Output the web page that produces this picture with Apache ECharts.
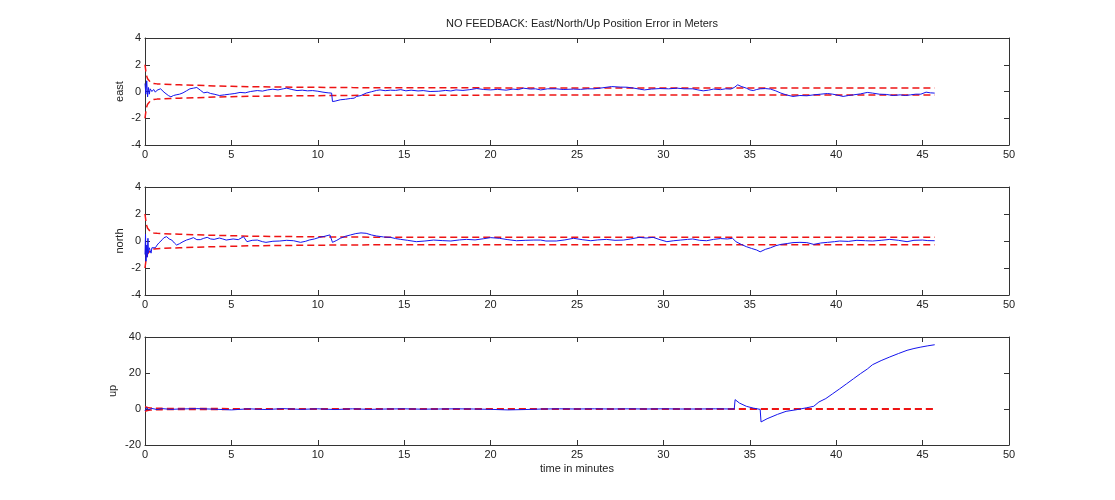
<!DOCTYPE html>
<html>
<head>
<meta charset="utf-8">
<script src="https://cdn.jsdelivr.net/npm/echarts@6/dist/echarts.min.js"></script>
<style>
html,body{margin:0;padding:0;background:#fff;}
#chart{width:1115px;height:500px;}
</style>
</head>
<body>
<div id="chart"></div>
<script>
// ---------- data ----------
var titleText = 'NO FEEDBACK: East/North/Up Position Error in Meters';
var xLabel = 'time in minutes';
var panelNames = ['east', 'north', 'up'];
var xTicks = [0, 5, 10, 15, 20, 25, 30, 35, 40, 45, 50];

var eastT = [0,0.05,0.1,0.15,0.2,0.25,0.3,0.4,0.5,0.6,0.7,0.8,0.9,1.0,1.1,1.2,1.35,1.5,1.65,1.8,2.0,2.2,2.4,2.6,2.8,3.0,3.2,3.4,3.6,3.8,4.0,4.3,4.6,4.9,5.2,5.5,5.8,6.1,6.5,6.8,7.1,7.4,7.7,8.0,8.2,8.5,8.8,9.1,9.4,9.7,10.0,10.3,10.6,10.8,10.85,11.0,11.3,11.6,11.9,12.1,12.25,12.5,12.8,13.1,13.4,13.6,13.9,14.2,14.5,14.8,15.1,15.4,15.8,16.1,16.5,17.0,17.4,17.7,18.0,18.4,18.8,19.2,19.6,20.0,20.4,20.9,21.3,21.6,21.9,22.3,22.6,22.9,23.3,23.8,24.2,24.8,25.2,25.6,26.0,26.5,27.0,27.5,27.9,28.3,28.6,28.9,29.3,29.8,30.3,30.8,31.2,31.7,32.0,32.3,32.6,32.9,33.3,33.6,33.9,34.1,34.3,34.5,34.8,35.0,35.2,35.4,35.6,35.9,36.2,36.5,36.8,37.1,37.5,37.9,38.3,38.7,39.1,39.5,39.8,40.1,40.4,40.7,41.0,41.4,41.8,42.1,42.5,42.9,43.3,43.7,44.0,44.3,44.6,44.9,45.2,45.45,45.7];
var eastV = [0.6,-0.2,0.8,-0.4,0.3,-0.2,0.2,0.0,0.15,-0.05,0.1,0.0,0.2,0.1,-0.05,-0.15,-0.3,-0.4,-0.3,-0.25,-0.2,-0.1,0.05,0.2,0.25,0.3,0.1,-0.1,-0.05,-0.15,-0.2,-0.3,-0.25,-0.2,-0.15,-0.07,-0.1,0.0,0.07,0.03,0.12,0.17,0.12,0.2,0.25,0.15,0.07,0.1,0.05,0.07,0.02,-0.05,-0.1,-0.12,-0.75,-0.72,-0.62,-0.58,-0.52,-0.5,-0.37,-0.3,-0.12,-0.02,0.08,0.12,0.06,0.1,0.08,0.14,0.05,0.1,0.04,0.07,0.0,0.02,0.08,0.04,0.12,0.08,0.14,0.22,0.15,0.12,0.16,0.1,0.18,0.14,0.25,0.18,0.2,0.12,0.2,0.2,0.15,0.18,0.16,0.2,0.2,0.28,0.37,0.33,0.32,0.25,0.18,0.12,0.18,0.22,0.2,0.25,0.2,0.2,0.12,0.05,0.1,0.18,0.14,0.2,0.18,0.3,0.5,0.38,0.25,0.12,0.07,0.15,0.2,0.22,0.18,0.05,-0.12,-0.25,-0.37,-0.3,-0.32,-0.25,-0.2,-0.15,-0.2,-0.28,-0.37,-0.3,-0.25,-0.18,-0.07,-0.12,-0.2,-0.22,-0.3,-0.25,-0.3,-0.25,-0.2,-0.2,-0.05,-0.1,-0.12];

var northT = [0,0.03,0.06,0.1,0.13,0.17,0.2,0.25,0.3,0.35,0.4,0.5,0.6,0.7,0.8,0.9,1.0,1.1,1.25,1.4,1.55,1.7,1.83,2.0,2.2,2.4,2.6,2.8,3.0,3.2,3.4,3.6,3.8,4.0,4.3,4.5,4.7,5.1,5.4,5.7,5.9,6.2,6.5,6.8,7.0,7.4,7.8,8.2,8.6,9.0,9.3,9.5,9.8,10.1,10.4,10.7,10.85,11.1,11.3,11.6,11.9,12.2,12.5,12.8,13.1,13.4,13.8,14.2,14.5,14.8,15.2,15.7,16.2,16.7,17.2,17.7,18.2,18.6,19.1,19.6,20.0,20.5,21.0,21.5,22.0,22.5,22.9,23.2,23.8,24.3,24.8,25.3,25.8,26.2,26.7,27.2,27.7,28.1,28.6,29.0,29.4,29.8,30.2,30.6,31.0,31.4,31.7,32.1,32.5,32.9,33.3,33.7,34.0,34.2,34.5,34.8,35.1,35.4,35.6,35.9,36.2,36.5,36.8,37.2,37.5,37.9,38.3,38.7,39.1,39.5,39.9,40.2,40.7,41.2,41.7,42.1,42.6,43.1,43.6,44.1,44.5,45.0,45.3,45.7];
var northV = [-1.0,0.5,-1.5,-0.3,-1.2,0.2,-0.9,-0.5,-0.7,-0.9,-0.5,-0.4,-0.5,-0.3,-0.15,-0.05,0.1,0.25,0.32,0.15,0.07,-0.15,-0.3,-0.2,-0.05,0.07,0.15,0.25,0.1,0.1,0.2,0.27,0.15,0.12,0.22,0.15,0.07,0.15,0.1,0.32,-0.05,0.05,0.07,-0.05,-0.1,-0.02,0.0,0.05,0.02,-0.1,-0.02,0.07,0.15,0.27,0.35,0.45,-0.1,0.05,0.2,0.35,0.45,0.55,0.6,0.57,0.45,0.37,0.3,0.27,0.18,0.12,0.05,-0.05,0.0,0.07,0.03,0.0,0.08,0.12,0.08,0.17,0.25,0.2,0.1,0.02,0.05,0.07,0.07,0.0,0.0,0.08,0.2,0.1,0.02,0.08,0.12,0.05,0.07,0.15,0.27,0.22,0.27,0.1,-0.05,0.02,0.07,0.12,0.15,0.05,0.02,0.12,0.18,0.15,0.2,-0.05,-0.25,-0.42,-0.55,-0.67,-0.8,-0.62,-0.5,-0.35,-0.25,-0.18,-0.12,-0.1,-0.12,-0.25,-0.15,-0.1,-0.05,0.0,-0.03,0.05,0.02,0.0,0.05,0.12,0.05,-0.05,0.05,0.07,0.03,0.02];

var upT = [0,0.1,0.2,0.4,0.7,1.0,1.5,2,3,4,5,6,7,8,9,10,11,12,13,14,15,16,17,18,19,20,21,22,23,24,25,26,27,28,29,30,31,32,33,34.1,34.15,34.4,34.8,35.2,35.6,35.65,36.0,36.6,37.1,37.7,38.3,38.7,39.0,39.4,39.8,40.2,40.6,41.0,41.4,41.8,42.1,42.6,43.1,43.6,44.1,44.5,44.9,45.3,45.7];
var upV = [-1,0.8,-0.5,0.3,-0.3,0.2,-0.2,0,0.2,-0.1,-0.5,0.1,-0.3,0.2,-0.2,0.1,-0.3,0.1,-0.2,0.0,0.1,-0.1,0.0,0.1,0.0,-0.2,-0.5,-0.3,0.0,0.1,0.0,0.1,0.0,0.1,0.0,0.1,0.0,0.0,0.1,0.0,5.2,3.3,1.5,0.5,-0.2,-7.2,-5.4,-3.0,-1.3,-0.4,0.7,1.5,3.9,5.8,8.5,11.2,14.0,16.8,19.6,22.2,24.6,26.9,28.9,30.8,32.6,33.6,34.4,35.1,35.7];

var sigT = [0,0.05,0.1,0.15,0.2,0.3,0.4,0.5,0.7,1,1.5,2,3,4,5,6,8,10,12,15,20,30,45.7];
var eastUp = [2.0,1.5,1.15,0.95,0.85,0.72,0.65,0.6,0.57,0.55,0.52,0.5,0.46,0.42,0.39,0.36,0.33,0.31,0.29,0.28,0.27,0.27,0.27];
var eastLo = [-2.0,-1.5,-1.15,-0.95,-0.85,-0.72,-0.65,-0.6,-0.57,-0.55,-0.52,-0.5,-0.46,-0.42,-0.39,-0.36,-0.33,-0.31,-0.29,-0.28,-0.27,-0.27,-0.27];
var northUp = [2.0,1.5,1.15,0.95,0.85,0.72,0.65,0.6,0.57,0.55,0.52,0.5,0.46,0.42,0.39,0.36,0.33,0.31,0.29,0.28,0.27,0.27,0.27];
var northLo = [-2.0,-1.5,-1.15,-0.95,-0.85,-0.72,-0.65,-0.6,-0.57,-0.55,-0.52,-0.5,-0.46,-0.42,-0.39,-0.36,-0.33,-0.31,-0.29,-0.28,-0.27,-0.27,-0.27];
var upUp = [1.2,1.0,0.9,0.8,0.7,0.6,0.5,0.45,0.4,0.35,0.3,0.28,0.25,0.22,0.2,0.2,0.2,0.2,0.2,0.2,0.2,0.2,0.2];
var upLo = [-1.2,-1.0,-0.9,-0.8,-0.7,-0.6,-0.5,-0.45,-0.4,-0.35,-0.3,-0.28,-0.25,-0.22,-0.2,-0.2,-0.2,-0.2,-0.2,-0.2,-0.2,-0.2,-0.2];

var yRanges = [[-4, 4, 2], [-4, 4, 2], [-20, 40, 20]];

// ---------- build ----------
function pairs(t, v) { return t.map(function (x, i) { return [x, v[i]]; }); }

var FONT = 'Liberation Sans, Arial, sans-serif';
var TXT = '#222';
var AX = '#333';
var gridTops = [38, 187, 337];
var gridH = [107, 108, 108];

var grids = [], xAxes = [], yAxes = [], series = [];
var blues = [pairs(eastT, eastV), pairs(northT, northV), pairs(upT, upV)];
var ups = [pairs(sigT, eastUp), pairs(sigT, northUp), pairs(sigT, upUp)];
var los = [pairs(sigT, eastLo), pairs(sigT, northLo), pairs(sigT, upLo)];

for (var i = 0; i < 3; i++) {
  grids.push({ left: 145, width: 864, top: gridTops[i], height: gridH[i] });
  var baseX = {
    type: 'value', gridIndex: i, min: 0, max: 50, interval: 5,
    axisLine: { show: true, onZero: false, lineStyle: { color: AX, width: 1 } },
    axisTick: { show: true, inside: true, length: 5, lineStyle: { color: AX } },
    splitLine: { show: false }
  };
  xAxes.push(Object.assign({}, baseX, {
    position: 'bottom',
    axisLabel: { show: true, color: TXT, fontFamily: FONT, fontSize: 11, margin: 4 },
    name: i === 2 ? xLabel : '', nameLocation: 'middle', nameGap: 18, nameMoveOverlap: false,
    nameTextStyle: { color: TXT, fontFamily: FONT, fontSize: 11 }
  }));
  xAxes.push(Object.assign({}, baseX, { position: 'top', axisLabel: { show: false } }));
  var r = yRanges[i];
  var baseY = {
    type: 'value', gridIndex: i, min: r[0], max: r[1], interval: r[2],
    axisLine: { show: true, onZero: false, lineStyle: { color: AX, width: 1 } },
    axisTick: { show: true, inside: true, length: 5, lineStyle: { color: AX } },
    splitLine: { show: false }
  };
  yAxes.push(Object.assign({}, baseY, {
    position: 'left',
    axisLabel: { show: true, color: TXT, fontFamily: FONT, fontSize: 11, margin: 4 },
    name: panelNames[i], nameLocation: 'middle', nameRotate: 90,
    nameGap: i === 2 ? 27 : 20, nameMoveOverlap: false,
    nameTextStyle: { color: TXT, fontFamily: FONT, fontSize: 11 }
  }));
  yAxes.push(Object.assign({}, baseY, { position: 'right', axisLabel: { show: false } }));

  var xi = i * 2, yi = i * 2;
  series.push({
    type: 'line', xAxisIndex: xi, yAxisIndex: yi, data: blues[i], showSymbol: false,
    lineStyle: { color: '#1414ee', width: 1 }, z: 3, silent: true
  });
  series.push({
    type: 'line', xAxisIndex: xi, yAxisIndex: yi, data: ups[i], showSymbol: false,
    lineStyle: { color: '#ee1414', width: 1.5, type: [7, 4] }, z: 2, silent: true
  });
  series.push({
    type: 'line', xAxisIndex: xi, yAxisIndex: yi, data: los[i], showSymbol: false,
    lineStyle: { color: '#ee1414', width: 1.5, type: [7, 4] }, z: 2, silent: true
  });
}

var chart = echarts.init(document.getElementById('chart'), null, { renderer: 'canvas' });
chart.setOption({
  animation: false,
  backgroundColor: '#fff',
  title: {
    text: titleText, left: 577, top: 13, textAlign: 'center',
    textStyle: { color: TXT, fontFamily: FONT, fontSize: 11, fontWeight: 'normal' }
  },
  grid: grids, xAxis: xAxes, yAxis: yAxes, series: series
});
</script>
</body>
</html>
